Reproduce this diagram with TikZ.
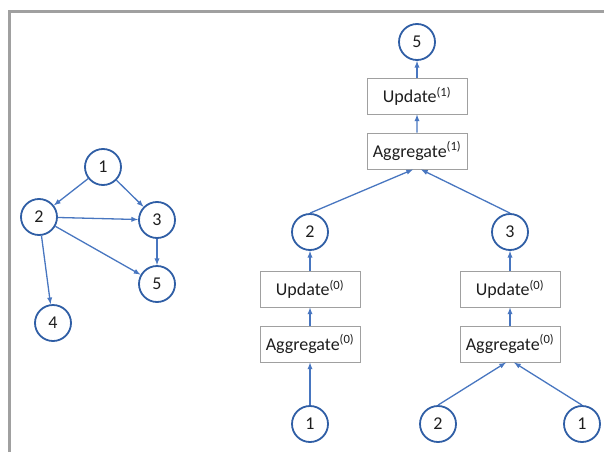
\documentclass[tikz,border=0pt]{standalone}
\usepackage{fontspec}
\setmainfont{Carlito}
\usepackage{tikz}
\usetikzlibrary{arrows,trees,positioning}
\definecolor{nodeblue}{RGB}{47,94,165}
\definecolor{edgeblue}{RGB}{72,118,192}
\definecolor{framegray}{RGB}{160,160,160}
\definecolor{textgray}{RGB}{30,30,30}

\begin{document}
\begin{tikzpicture}[x=1pt,y=1pt,>=latex,parent anchor=south,child anchor=north]
\tikzstyle{vertex}=[circle,draw=nodeblue,line width=1.8pt,minimum size=36pt,inner sep=0pt,text=textgray,font=\fontsize{18}{21}\selectfont]
\tikzstyle{op}=[rectangle,draw=framegray,line width=1pt,minimum width=100pt,minimum height=36pt,inner sep=0pt,text=textgray,font=\fontsize{18}{21}\selectfont]
\tikzstyle{link}=[->,draw=edgeblue,line width=1.3pt]
\tikzstyle{edge from parent}=[draw=edgeblue,line width=1.3pt,->]
\tikzstyle{level 1}=[level distance=54pt]
\tikzstyle{level 2}=[level distance=55pt]
\tikzstyle{level 3}=[level distance=81pt,sibling distance=200pt]
\tikzstyle{level 4}=[level distance=57pt]
\tikzstyle{level 5}=[level distance=55pt]
\tikzstyle{level 6}=[level distance=80pt,sibling distance=144pt]
\tikzstyle{left in}=[edge from parent path={(\tikzchildnode\tikzchildanchor) -- ([xshift=-4pt]\tikzparentnode\tikzparentanchor)}]
\tikzstyle{right in}=[edge from parent path={(\tikzchildnode\tikzchildanchor) -- ([xshift=4pt]\tikzparentnode\tikzparentanchor)}]
\tikzstyle{straight in}=[edge from parent path={(\tikzchildnode\tikzchildanchor) -- (\tikzparentnode\tikzparentanchor)}]
\useasboundingbox (0,0) rectangle (604,-452);
\draw[framegray,line width=3pt] (9,-452) -- (9,-12) -- (604,-12);

% input graph
\node[vertex] (g1) at (103,-167) {1};
\node[vertex] (g2) at (39,-217) {2};
\node[vertex] (g3) at (157,-220) {3};
\node[vertex] (g5) at (157,-284) {5};
\node[vertex] (g4) at (53,-323) {4};
\draw[link] (g1) -- (g2);
\draw[link] (g1) -- (g3);
\draw[link] (g2) -- (g3);
\draw[link] (g2) -- (g5);
\draw[link] (g3) -- (g5);
\draw[link] (g2) -- (g4);

% computation tree of node 5
\node[vertex] (t5) at (417,-42) {5}
child[straight in] {node[op] (up1) {Update\textsuperscript{(1)}}
  child[straight in] {node[op] (ag1) {Aggregate\textsuperscript{(1)}}
    child[xshift=-7pt,left in] {node[vertex] (t2) {2}
      child[straight in] {node[op] (up0l) {Update\textsuperscript{(0)}}
        child[straight in] {node[op] (ag0l) {Aggregate\textsuperscript{(0)}}
          child[straight in] {node[vertex] (t21) {1}}}}}
    child[xshift=-7pt,right in] {node[vertex] (t3) {3}
      child[straight in] {node[op] (up0r) {Update\textsuperscript{(0)}}
        child[straight in] {node[op] (ag0r) {Aggregate\textsuperscript{(0)}}
          child[left in] {node[vertex] (t32) {2}}
          child[right in] {node[vertex] (t31) {1}}}}}}};
\end{tikzpicture}
\end{document}
